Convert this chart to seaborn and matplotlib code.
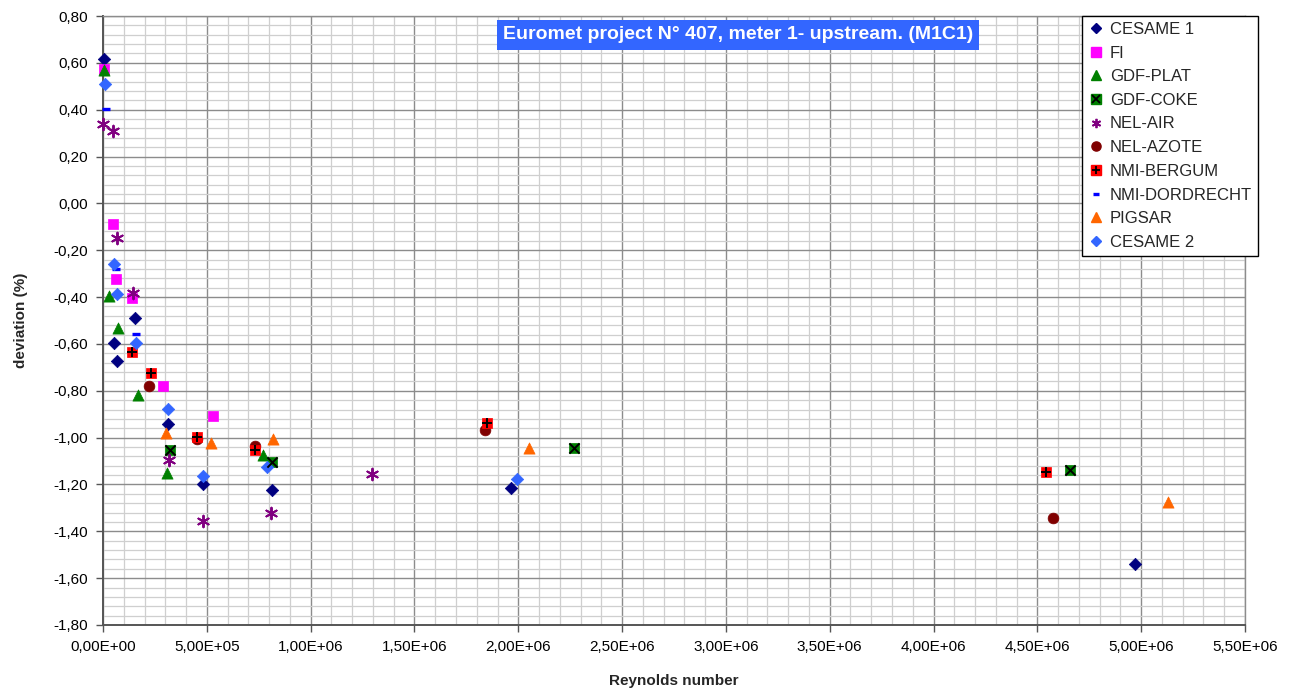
import pandas as pd
import numpy as np
import matplotlib
matplotlib.use("Agg")
import matplotlib.pyplot as plt
from matplotlib.lines import Line2D
from matplotlib.ticker import MultipleLocator, FuncFormatter
import seaborn as sns

sns.set_theme(style="white")
plt.rcParams["font.family"] = ["Liberation Sans", "DejaVu Sans"]

# Reynolds number / deviation (%)
cesame1_x = [5e3, 5.4e4, 6.9e4, 1.54e5, 3.15e5, 4.83e5, 8.16e5, 1.965e6, 4.968e6]
cesame1_y = [0.616, -0.595, -0.674, -0.488, -0.942, -1.198, -1.224, -1.215, -1.541]
fi_x = [5e3, 4.7e4, 6.3e4, 1.38e5, 2.88e5, 5.28e5]
fi_y = [0.573, -0.089, -0.323, -0.403, -0.781, -0.909]
plat_x = [5e3, 2.9e4, 7.1e4, 1.7e5, 3.07e5, 7.69e5]
plat_y = [0.570, -0.394, -0.533, -0.818, -1.150, -1.075]
coke_x = [3.23e5, 8.12e5, 2.269e6, 4.659e6]
coke_y = [-1.053, -1.104, -1.045, -1.137]
air_x = [2e3, 5.0e4, 6.9e4, 1.43e5, 3.16e5, 4.80e5, 8.09e5, 1.297e6]
air_y = [0.338, 0.309, -0.146, -0.381, -1.096, -1.356, -1.320, -1.155]
azote_x = [2.23e5, 4.51e5, 7.34e5, 1.838e6, 4.573e6]
azote_y = [-0.780, -1.007, -1.036, -0.967, -1.345]
bergum_x = [1.38e5, 2.30e5, 4.51e5, 7.32e5, 1.848e6, 4.542e6]
bergum_y = [-0.633, -0.724, -0.996, -1.053, -0.939, -1.148]
dord_x = [1.4e4, 6.3e4, 1.57e5]
dord_y = [0.404, -0.281, -0.559]
pigsar_x = [3.03e5, 5.20e5, 8.17e5, 2.054e6, 5.13e6]
pigsar_y = [-0.979, -1.024, -1.005, -1.046, -1.274]
cesame2_x = [8e3, 5.1e4, 6.6e4, 1.6e5, 3.11e5, 4.83e5, 7.91e5, 1.993e6]
cesame2_y = [0.511, -0.257, -0.388, -0.597, -0.879, -1.165, -1.127, -1.178]

series = [
    ("CESAME 1", cesame1_x, cesame1_y),
    ("FI", fi_x, fi_y),
    ("GDF-PLAT", plat_x, plat_y),
    ("GDF-COKE", coke_x, coke_y),
    ("NEL-AIR", air_x, air_y),
    ("NEL-AZOTE", azote_x, azote_y),
    ("NMI-BERGUM", bergum_x, bergum_y),
    ("NMI-DORDRECHT", dord_x, dord_y),
    ("PIGSAR", pigsar_x, pigsar_y),
    ("CESAME 2", cesame2_x, cesame2_y),
]
df = pd.concat([pd.DataFrame({"lab": n, "re": x, "dev": y}) for n, x, y in series])

# marker, colour, size, overlay marker (or None)
styles = {
    "CESAME 1": ("D", "#000080", 40, None),
    "FI": ("s", "#ff00ff", 60, None),
    "GDF-PLAT": ("^", "#008000", 65, None),
    "GDF-COKE": ("s", "#008000", 60, "x"),
    "NEL-AIR": ((6, 2, 0), "#800080", 70, None),
    "NEL-AZOTE": ("o", "#800000", 60, None),
    "NMI-BERGUM": ("s", "#ff0000", 60, "+"),
    "NMI-DORDRECHT": ("_", "#0000ff", 40, None),
    "PIGSAR": ("^", "#ff6600", 65, None),
    "CESAME 2": ("D", "#3366ff", 40, None),
}

fig = plt.figure(figsize=(13.04, 6.93), dpi=100)
ax = fig.add_axes([103/1304, 1-625/693, 1142/1304, 609/693])

handles = []
for name, _, _ in series:
    m, c, s, over = styles[name]
    sub = df[df["lab"] == name]
    if name == "NEL-AIR":
        sns.scatterplot(data=sub, x="re", y="dev", marker=m, s=s, color=c,
                        linewidth=1.4, ax=ax, clip_on=False, zorder=3)
    elif name == "NMI-DORDRECHT":
        sns.scatterplot(data=sub, x="re", y="dev", marker=m, s=s, color=c,
                        linewidth=2.4, ax=ax, clip_on=False, zorder=3)
    else:
        sns.scatterplot(data=sub, x="re", y="dev", marker=m, s=s, color=c,
                        edgecolor=c, linewidth=0.5, ax=ax, clip_on=False, zorder=3)
    if over:
        sns.scatterplot(data=sub, x="re", y="dev", marker=over, s=s*0.9, color="black",
                        linewidth=1.4, ax=ax, clip_on=False, zorder=4)
    ms = np.sqrt(s)
    if name == "NEL-AIR":
        h = Line2D([], [], marker=m, ls="none", color=c, ms=ms*0.8, mew=1.3)
    elif name == "NMI-DORDRECHT":
        h = Line2D([], [], marker=m, ls="none", color=c, ms=ms*0.7, mew=2.4)
    else:
        h = Line2D([], [], marker=m, ls="none", mec=c, mfc=c, ms=ms*0.85)
    if over:
        h = (h, Line2D([], [], marker=over, ls="none", mec="black", ms=ms*0.8, mew=1.3))
    handles.append(h)

ax.set_xlim(0, 5.5e6)
ax.set_ylim(-1.8, 0.8)
ax.xaxis.set_major_locator(MultipleLocator(5e5))
ax.xaxis.set_minor_locator(MultipleLocator(1e5))
ax.yaxis.set_major_locator(MultipleLocator(0.2))
ax.yaxis.set_minor_locator(MultipleLocator(0.04))
ax.xaxis.set_major_formatter(FuncFormatter(lambda v, _: f"{v:.2E}".replace(".", ",")))
ax.yaxis.set_major_formatter(FuncFormatter(lambda v, _: f"{v:.2f}".replace(".", ",")))
ax.grid(which="major", color="#8c8c8c", lw=1.0, zorder=0)
ax.grid(which="minor", color="#cfcfcf", lw=0.9, zorder=0)
ax.set_axisbelow(True)
ax.tick_params(which="major", direction="out", length=5, width=1, color="#555555",
               labelsize=11, labelcolor="black", bottom=True, left=True, pad=6)
ax.tick_params(which="minor", length=0)
for side in ["left", "bottom"]:
    ax.spines[side].set_color("#555555")
    ax.spines[side].set_linewidth(1.4)
for side in ["top", "right"]:
    ax.spines[side].set_color("#8c8c8c")
    ax.spines[side].set_linewidth(1.0)

ax.set_xlabel("Reynolds number", fontsize=11, fontweight="bold", labelpad=14)
ax.set_ylabel("deviation (%)", fontsize=11, fontweight="bold", labelpad=18)

ax.text(0.556, 0.969, "Euromet project N° 407, meter 1- upstream. (M1C1)",
        transform=ax.transAxes, ha="center", va="center", color="white",
        fontsize=14, fontweight="bold", zorder=6,
        bbox=dict(boxstyle="square,pad=0.32", fc="#3366ff", ec="none"))

leg = fig.legend(handles, [n for n, _, _ in series], loc="upper right",
                 bbox_to_anchor=(1258/1304, 1-16/693), fontsize=12,
                 frameon=True, fancybox=False, edgecolor="black", framealpha=1,
                 handlelength=1.0, handletextpad=0.35, labelspacing=0.52,
                 borderpad=0.35, borderaxespad=0)
leg.get_frame().set_linewidth(1.0)
leg.set_zorder(10)

fig.savefig("out.png", dpi=100, facecolor="white")
